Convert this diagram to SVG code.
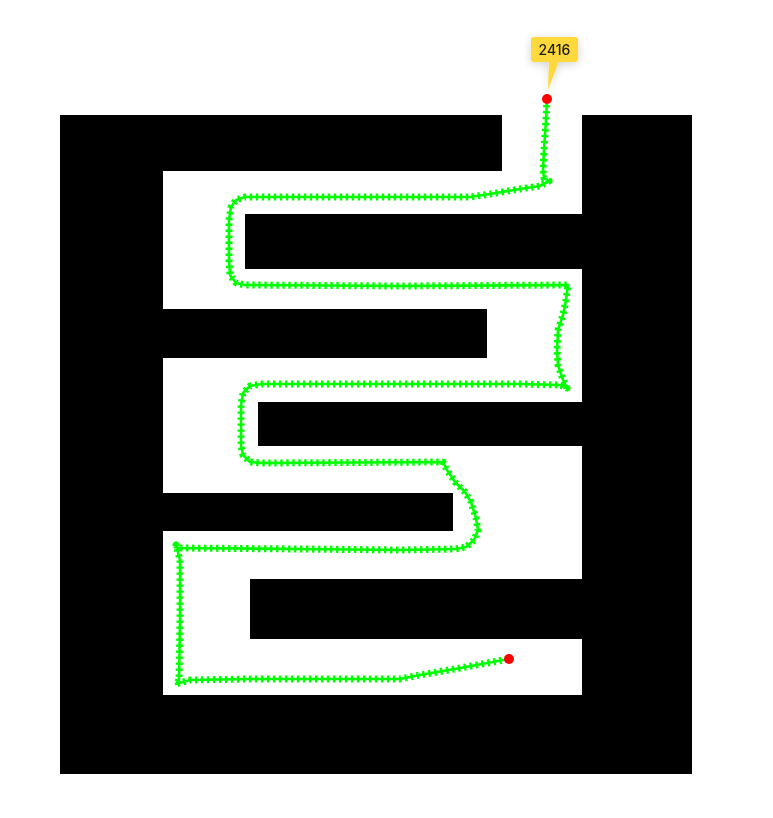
<svg xmlns="http://www.w3.org/2000/svg" width="773" height="818" viewBox="0 0 773 818">
  <defs>
    <filter id="sh" x="-60%" y="-60%" width="220%" height="220%">
      <feGaussianBlur in="SourceAlpha" stdDeviation="5"/>
      <feOffset dy="2"/>
      <feComponentTransfer><feFuncA type="linear" slope="0.18"/></feComponentTransfer>
      <feMerge><feMergeNode/><feMergeNode in="SourceGraphic"/></feMerge>
    </filter>
  </defs>
  <style>
    .wall { fill: #000000; }
    .free { fill: #ffffff; }
    .trk { fill: none; stroke: #00ff00; stroke-linejoin: round; }
    .line { stroke-width: 2.6; }
    .tick { stroke-width: 7; stroke-dasharray: 2.4 3.6; }
    .dot { fill: #ff0000; }
    .tip { fill: #ffd83b; }
    .lbl { font-family: "Inter", "Liberation Sans", sans-serif; font-size: 14px; font-weight: 500; fill: #1a1a1a; text-anchor: middle; }
  </style>
  <rect width="773" height="818" fill="#ffffff"/>
  <g id="maze">
    <rect class="wall" x="60" y="115" width="632" height="659"/>
    <rect class="free" x="163" y="171" width="419" height="524"/>
    <rect class="free" x="502" y="115" width="80" height="56"/>
    <rect class="wall" x="245" y="214" width="337" height="55"/>
    <rect class="wall" x="163" y="309" width="324" height="49"/>
    <rect class="wall" x="258" y="402" width="324" height="44"/>
    <rect class="wall" x="163" y="493" width="290" height="38"/>
    <rect class="wall" x="250" y="579" width="332" height="60"/>
  </g>
  <g id="track">
    <path class="trk line" d="M547,99 L546,120 L544,150 L543,170 L544,178 L549,181 L540,186 L520,189 L490,194 L470,197 L400,197 L300,197 L245,197 L236,200 L231,207 L229,220 L229,260 L230,275 L236,283 L245,285 L400,286 L568,285 L566,300 L563,315 L558,330 L557,350 L558,365 L563,380 L567,388 L560,385 L520,384 L400,384 L262,384 L250,386 L243,393 L241,405 L241,445 L243,455 L250,462 L262,463 L443,462 L447,470 L455,482 L465,492 L471,502 L476,518 L478,530 L474,540 L466,547 L455,549 L400,550 L300,549 L178,548 L176,545 L180,560 L180,620 L179,680 L176,684 L190,680 L250,679 L380,679 L400,679 L420,675 L460,668 L509,659"/>
    <path class="trk tick" d="M547,99 L546,120 L544,150 L543,170 L544,178 L549,181 L540,186 L520,189 L490,194 L470,197 L400,197 L300,197 L245,197 L236,200 L231,207 L229,220 L229,260 L230,275 L236,283 L245,285 L400,286 L568,285 L566,300 L563,315 L558,330 L557,350 L558,365 L563,380 L567,388 L560,385 L520,384 L400,384 L262,384 L250,386 L243,393 L241,405 L241,445 L243,455 L250,462 L262,463 L443,462 L447,470 L455,482 L465,492 L471,502 L476,518 L478,530 L474,540 L466,547 L455,549 L400,550 L300,549 L178,548 L176,545 L180,560 L180,620 L179,680 L176,684 L190,680 L250,679 L380,679 L400,679 L420,675 L460,668 L509,659"/>
  </g>
  <g id="start">
    <circle class="dot" cx="547" cy="99" r="5"/>
  </g>
  <g id="end">
    <circle class="dot" cx="509" cy="659" r="5"/>
  </g>
  <g id="tooltip" filter="url(#sh)">
    <rect class="tip" x="531" y="37" width="47" height="25" rx="3"/>
    <polygon class="tip" points="549,61 559,61 548,90"/>
    <text class="lbl" x="554.5" y="54.5">2416</text>
  </g>
</svg>
